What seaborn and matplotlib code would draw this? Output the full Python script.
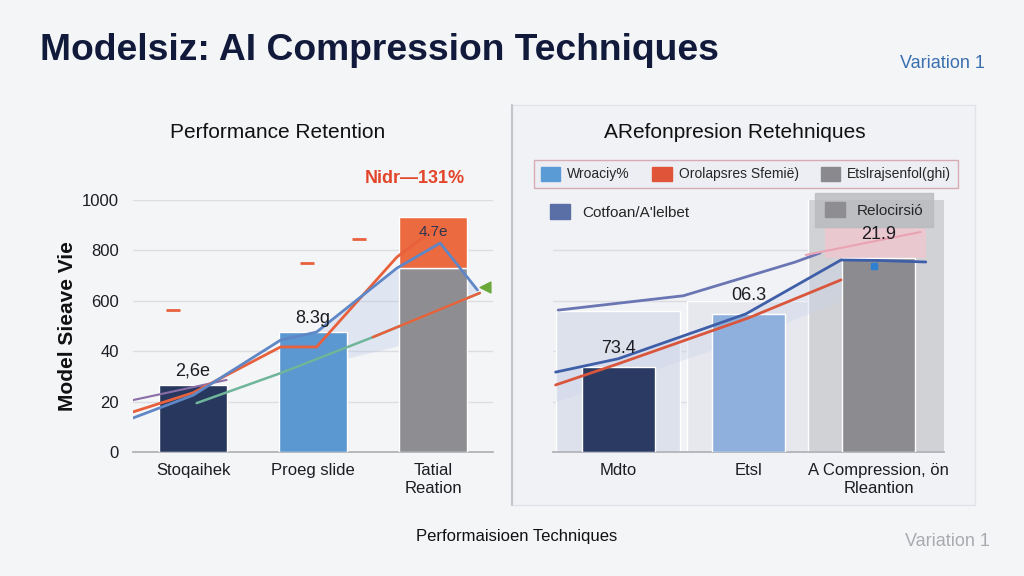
import numpy as np
import pandas as pd
import matplotlib
matplotlib.use("Agg")
import matplotlib.pyplot as plt
import seaborn as sns
from matplotlib.patches import Patch, Rectangle
from matplotlib.lines import Line2D

sns.set_theme(style="white")
plt.rcParams['font.family'] = ['Liberation Sans', 'DejaVu Sans']

# ---------------- data ----------------
left_categories = ["Stoqaihek", "Proeg slide", "Tatial\nReation"]
left_values = [266, 476, 730]
left_stack_extra = [0, 0, 202]
left_bar_labels = ["2,6e", "8.3g", "4.7e"]
left_ytick_values = [0, 200, 400, 600, 800, 1000]
left_ytick_labels = ["0", "20", "40", "600", "800", "1000"]

left_blue_x = [-0.5, 0.0, 0.73, 1.03, 1.7, 2.06, 2.37]
left_blue_y = [135, 225, 444, 476, 730, 829, 643]
left_orange_x = [-0.5, 0.0, 0.73, 1.03, 1.7, 2.0]
left_orange_y = [159, 235, 417, 417, 774, 881]
left_orange2_x = [1.5, 2.39]
left_orange2_y = [456, 631]
left_green_x = [0.03, 0.73, 1.5, 2.39]
left_green_y = [194, 313, 456, 631]
left_purple_x = [-0.5, 0.28]
left_purple_y = [206, 286]
left_redmark_x = [-0.17, 0.95, 1.38]
left_redmark_y = [563, 750, 845]
left_triangle_x = [2.43]
left_triangle_y = [655]

right_categories = ["Mdto", "Etsl", "A Compression, ön\nRleantion"]
right_values = [33.7, 54.8, 77.0]
right_bg_values = [56, 60, 102]
right_bar_labels = ["73.4", "06.3", "21.9"]
right_slate_x = [-0.46, 0.5, 1.36, 1.55]
right_slate_y = [56.3, 62.0, 75.4, 79.0]
right_pink_x = [1.44, 2.32]
right_pink_y = [78.2, 87.3]
right_blue_x = [-0.48, 0.0, 0.98, 1.71, 2.0, 2.36]
right_blue_y = [31.7, 37.0, 54.8, 76.2, 76.0, 75.4]
right_red_x = [-0.48, 0.0, 1.0, 1.71]
right_red_y = [26.6, 35.0, 53.2, 68.3]
right_marker_x = [1.96]
right_marker_y = [73.8]

legend_row1 = ["Wroaciy%", "Orolapsres Sfemië)", "Etslrajsenfol(ghi)"]
legend_row2 = "Cotfoan/A'lelbet"
legend_box = "Relocirsió"

# ---------------- figure ----------------
BG = "#f4f5f7"
fig = plt.figure(figsize=(10.24, 5.76), dpi=100, facecolor=BG)

# right panel background + separator
fig.patches.append(Rectangle((512/1024, 1-505/576), (975-512)/1024, (505-105)/576,
                             transform=fig.transFigure, facecolor="#f1f2f5",
                             edgecolor="#e2e3e8", lw=1, zorder=-5))
fig.add_artist(Line2D([512/1024, 512/1024], [1-505/576, 1-105/576],
                      transform=fig.transFigure, color="#c4c5ca", lw=1.5, zorder=-4))

axL = fig.add_axes([133/1024, 1-452/576, 360/1024, 252/576])
axR = fig.add_axes([553/1024, 1-452/576, 391/1024, 252/576])
for ax in (axL, axR):
    ax.set_facecolor("none")
    ax.set_zorder(1)

# ---------- left panel ----------
dfL = pd.DataFrame({"cat": left_categories, "val": left_values})
sns.barplot(data=dfL, x="cat", y="val", hue="cat", ax=axL, width=0.56,
            palette=["#27375e", "#5b97d0", "#8e8e92"], legend=False,
            saturation=1, zorder=3)
axL.bar([2], [left_stack_extra[2]], bottom=[left_values[2]], width=0.56,
        color="#ec6a40", zorder=3)

axL.fill_between([1.0, 1.7, 2.06, 2.37], [476, 730, 829, 643], [340, 420, 560, 640],
                 color="#b8c8e6", alpha=0.35, zorder=2, lw=0)
sns.lineplot(x=left_purple_x, y=left_purple_y, ax=axL, color="#8a6ea8", lw=1.5, zorder=4)
sns.lineplot(x=left_green_x, y=left_green_y, ax=axL, color="#6fb59a", lw=1.8, zorder=4)
sns.lineplot(x=left_orange2_x, y=left_orange2_y, ax=axL, color="#e8603c", lw=1.8, zorder=4)
sns.lineplot(x=left_orange_x, y=left_orange_y, ax=axL, color="#e8603c", lw=2, zorder=5)
sns.lineplot(x=left_blue_x, y=left_blue_y, ax=axL, color="#5f87c6", lw=2, zorder=5)
axL.scatter(left_redmark_x, left_redmark_y, marker="_", s=90, color="#e8603c",
            lw=2, zorder=5)
axL.scatter(left_triangle_x, left_triangle_y, marker="<", s=60, color="#6aa83a", zorder=6)

for i, (v, e, lab) in enumerate(zip(left_values, left_stack_extra, left_bar_labels)):
    if e:
        axL.text(i, v + e - 60, lab, ha="center", va="center", fontsize=11,
                 color="#2b3550", zorder=7)
    else:
        axL.text(i, v + 20, lab, ha="center", va="bottom", fontsize=13,
                 color="#1c1c22", zorder=7)
axL.text(1.85, 1085, "Nidr—131%", ha="center", va="center", fontsize=13,
         color="#e2452a", fontweight="bold", zorder=7)

axL.set_xlim(-0.5, 2.5)
axL.set_ylim(0, 1000)
axL.set_yticks(left_ytick_values)
axL.set_yticklabels(left_ytick_labels, fontsize=12, color="#1c1c22")
axL.yaxis.grid(True, color="#dcdde2", lw=1)
axL.set_axisbelow(True)
axL.set_xlabel("")
axL.set_ylabel("Model Sieave Vie", fontsize=15, fontweight="bold", color="#111",
               labelpad=4)
axL.tick_params(axis="x", labelsize=12, colors="#1c1c22", length=0, pad=8)
axL.tick_params(axis="y", length=0, pad=10)
for lab in axL.get_xticklabels():
    lab.set_color("#1c1c22")
axL.set_xticks([-0.5, 0.5, 1.5, 2.5], minor=True)
axL.tick_params(axis="x", which="minor", length=5, color="#b0b1b6", width=1)
for s in ["top", "right", "left"]:
    axL.spines[s].set_visible(False)
axL.spines["bottom"].set_color("#b0b1b6")

# ---------- right panel ----------
axR.bar([0, 1, 2], right_bg_values, width=[0.95, 0.95, 1.08],
        color=["#dde1ec", "#e6e8ee", "#d1d2d6"], zorder=1)
axR.add_patch(Rectangle((1.59, 77), 0.77, 12, facecolor="#f0c6cf", alpha=0.8,
                        edgecolor="none", zorder=2))
axR.fill_between(right_blue_x[:4], right_blue_y[:4], [20, 28, 45, 60],
                 color="#c9d3ea", alpha=0.35, lw=0, zorder=2)
dfR = pd.DataFrame({"cat": right_categories, "val": right_values})
sns.barplot(data=dfR, x="cat", y="val", hue="cat", ax=axR, width=0.56,
            palette=["#2b3a62", "#8fb0dc", "#8c8c90"], legend=False,
            saturation=1, zorder=3)
sns.lineplot(x=right_slate_x, y=right_slate_y, ax=axR, color="#6a76b4", lw=2, zorder=4)
sns.lineplot(x=right_pink_x, y=right_pink_y, ax=axR, color="#e9a3b3", lw=1.5, zorder=4)
sns.lineplot(x=right_red_x, y=right_red_y, ax=axR, color="#d9553c", lw=2, zorder=4)
sns.lineplot(x=right_blue_x, y=right_blue_y, ax=axR, color="#3f5ea8", lw=2, zorder=5)
axR.scatter(right_marker_x, right_marker_y, marker="s", s=25, color="#2f80d0", zorder=6)
offs = [4, 4, 6]
for i, (v, lab) in enumerate(zip(right_values, right_bar_labels)):
    axR.text(i, v + offs[i], lab, ha="center", va="bottom", fontsize=13,
             color="#1c1c22", zorder=7)

axR.set_xlim(-0.5, 2.5)
axR.set_ylim(0, 100)
axR.set_yticks([20, 40, 60, 80])
axR.set_yticklabels([])
axR.tick_params(axis="y", length=0)
axR.yaxis.grid(True, color="#dcdde2", lw=1)
axR.set_axisbelow(True)
axR.set_xlabel("")
axR.set_ylabel("")
axR.tick_params(axis="x", labelsize=12, length=0, pad=8)
for lab in axR.get_xticklabels():
    lab.set_color("#1c1c22")
axR.set_xticks([-0.5, 0.5, 1.5, 2.5], minor=True)
axR.tick_params(axis="x", which="minor", length=5, color="#b0b1b6", width=1)
for s in ["top", "right", "left"]:
    axR.spines[s].set_visible(False)
axR.spines["bottom"].set_color("#b0b1b6")

# legends
h1 = [Patch(color=c) for c in ["#5b9bd5", "#e0553a", "#8a8a8e"]]
leg1 = axR.legend(h1, legend_row1, ncol=3, loc="center",
                  bbox_to_anchor=((746 - 553) / 391, (452 - 174) / 252),
                  frameon=True, fontsize=10, handlelength=1.4, handleheight=1.2,
                  handletextpad=0.5, columnspacing=1.6, borderpad=0.5,
                  fancybox=False)
leg1.get_frame().set_facecolor("#eceef3")
leg1.get_frame().set_edgecolor("#d29aa3")
axR.add_artist(leg1)
leg2 = axR.legend([Patch(color="#5a6fa6")], [legend_row2], loc="center left",
                  bbox_to_anchor=((536 - 553) / 391, (452 - 212) / 252),
                  frameon=False, fontsize=11, handlelength=1.3, handleheight=1.1)
axR.add_artist(leg2)
leg3 = axR.legend([Patch(color="#8e8e92")], [legend_box], loc="center",
                  bbox_to_anchor=((874 - 553) / 391, (452 - 210) / 252),
                  frameon=True, fontsize=11, handlelength=1.3, handleheight=1.1,
                  borderpad=0.6, borderaxespad=0, fancybox=False)
leg3.get_frame().set_facecolor("#b9babe")
leg3.get_frame().set_edgecolor("#b9babe")

# ---------- texts ----------
fig.text(40/1024, 1-50/576, "Modelsiz: AI Compression Techniques", fontsize=26.8,
         fontweight="bold", color="#111a3a", ha="left", va="center")
fig.text(985/1024, 1-63/576, "Variation 1", fontsize=13, color="#3a6fb0",
         ha="right", va="center")
fig.text(278/1024, 1-133/576, "Performance Retention", fontsize=15,
         color="#111", ha="center", va="center")
fig.text(735/1024, 1-133/576, "ARefonpresion Retehniques", fontsize=15,
         color="#111", ha="center", va="center")
fig.text(517/1024, 1-537/576, "Performaisioen Techniques", fontsize=12,
         color="#111", ha="center", va="center")
fig.text(990/1024, 1-541/576, "Variation 1", fontsize=13, color="#a9abb0",
         ha="right", va="center")

fig.savefig("out.png", dpi=100, facecolor=BG)
